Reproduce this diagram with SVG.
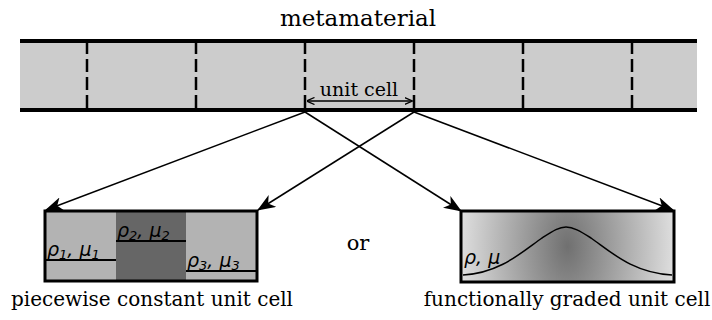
<svg xmlns="http://www.w3.org/2000/svg" width="712" height="320" viewBox="0 0 712 320">
<style>
.serif{font-family:"DejaVu Serif","Liberation Serif",serif;fill:#000}
.math{font-family:"DejaVu Sans","Liberation Sans",sans-serif;font-style:italic;font-size:19px;fill:#000}
.dash{stroke:#000;stroke-width:2.5;stroke-dasharray:13,5;fill:none}
.conn{stroke:#000;stroke-width:1.5;fill:none;marker-end:url(#ah)}
.frame{fill:none;stroke:#000;stroke-width:3}
</style>
<defs>
<marker id="ah" viewBox="0 0 18 14" refX="17" refY="7" markerWidth="18" markerHeight="14" markerUnits="userSpaceOnUse" orient="auto">
<path d="M0,0 L18,7 L0,14 L5,7 Z" fill="#000"/>
</marker>
<marker id="sa" viewBox="0 0 8 8" refX="7.5" refY="4" markerWidth="8" markerHeight="8" markerUnits="userSpaceOnUse" orient="auto-start-reverse">
<path d="M0,0.5 L8,4 L0,7.5" fill="none" stroke="#000" stroke-width="1.3"/>
</marker>
<radialGradient id="grad" cx="0.5" cy="0.5" r="0.5" gradientUnits="objectBoundingBox" gradientTransform="translate(0.5 0.5) scale(1 5) translate(-0.5 -0.5)">
<stop offset="0" stop-color="#707070"/>
<stop offset="1" stop-color="#dedede"/>
</radialGradient>
</defs>
<text class="serif" x="358" y="26" font-size="23" text-anchor="middle">metamaterial</text>
<g id="metamaterial">
<rect x="20" y="41" width="677" height="69" fill="#cccccc"/>
<line x1="20" y1="41" x2="697" y2="41" stroke="#000" stroke-width="4"/>
<line x1="20" y1="110" x2="697" y2="110" stroke="#000" stroke-width="4"/>
<line class="dash" x1="87" y1="41" x2="87" y2="110"/>
<line class="dash" x1="196" y1="41" x2="196" y2="110"/>
<line class="dash" x1="305" y1="41" x2="305" y2="110"/>
<line class="dash" x1="414" y1="41" x2="414" y2="110"/>
<line class="dash" x1="523" y1="41" x2="523" y2="110"/>
<line class="dash" x1="632" y1="41" x2="632" y2="110"/>
<line x1="307" y1="101" x2="412" y2="101" stroke="#000" stroke-width="1.3" marker-start="url(#sa)" marker-end="url(#sa)"/>
<text class="serif" x="359" y="96" font-size="19" text-anchor="middle">unit cell</text>
</g>
<g id="connectors">
<line class="conn" x1="305" y1="112" x2="46" y2="210"/>
<line class="conn" x1="305" y1="112" x2="461" y2="211"/>
<line class="conn" x1="414" y1="112" x2="258" y2="210"/>
<line class="conn" x1="414" y1="112" x2="673" y2="210"/>
</g>
<g id="piecewise">
<rect x="45" y="211" width="72" height="70" fill="#b3b3b3"/>
<rect x="116" y="211" width="70" height="70" fill="#666666"/>
<rect x="186" y="211" width="72" height="70" fill="#b3b3b3"/>
<line x1="45" y1="260" x2="116" y2="260" stroke="#000" stroke-width="2"/>
<line x1="116" y1="241" x2="186" y2="241" stroke="#000" stroke-width="2"/>
<line x1="186" y1="271" x2="257" y2="271" stroke="#000" stroke-width="2"/>
<text class="math" x="47" y="256">ρ<tspan font-size="13" dy="3">1</tspan><tspan dy="-3">, μ</tspan><tspan font-size="13" dy="3">1</tspan></text>
<text class="math" x="117" y="237">ρ<tspan font-size="13" dy="3">2</tspan><tspan dy="-3">, μ</tspan><tspan font-size="13" dy="3">2</tspan></text>
<text class="math" x="187" y="267">ρ<tspan font-size="13" dy="3">3</tspan><tspan dy="-3">, μ</tspan><tspan font-size="13" dy="3">3</tspan></text>
<rect class="frame" x="45" y="211" width="212" height="70"/>
<text class="serif" x="152" y="306" font-size="20" text-anchor="middle">piecewise constant unit cell</text>
</g>
<text class="serif" x="358" y="250" font-size="21" text-anchor="middle">or</text>
<g id="graded">
<rect x="461" y="211" width="213" height="71" fill="url(#grad)"/>
<path d="M463,275 C500,273 522,252 542,238 C553,231 559,227 566,227 C573,227 580,231 591,238 C611,252 633,273 672,275" fill="none" stroke="#000" stroke-width="1.5"/>
<text class="math" x="464" y="264" font-size="20">ρ, μ</text>
<rect class="frame" x="461" y="211" width="213" height="71"/>
<text class="serif" x="567" y="306" font-size="20" text-anchor="middle">functionally graded unit cell</text>
</g>
</svg>
